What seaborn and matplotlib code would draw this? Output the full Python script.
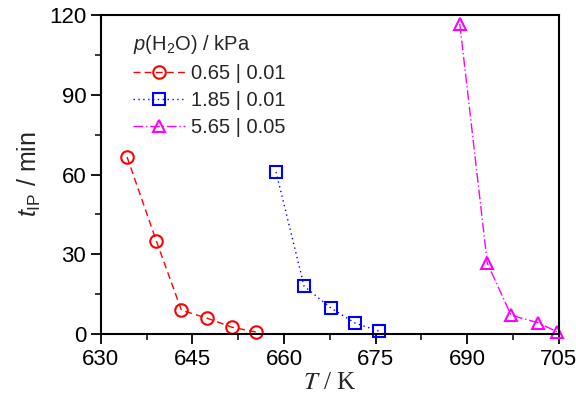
import numpy as np
import pandas as pd
import matplotlib
matplotlib.use('Agg')
import matplotlib.pyplot as plt
import seaborn as sns
from matplotlib.ticker import MultipleLocator

sns.set_style('ticks')
plt.rcParams['font.family'] = ['Liberation Sans', 'DejaVu Sans']
plt.rcParams['mathtext.fontset'] = 'custom'
plt.rcParams['mathtext.rm'] = 'Liberation Sans'
plt.rcParams['mathtext.it'] = 'Liberation Sans:italic'

# data
T_065 = [634.3, 639.1, 643.2, 647.4, 651.5, 655.4]
t_065 = [66.6, 35.0, 9.0, 6.0, 2.6, 0.8]
T_185 = [658.7, 663.3, 667.7, 671.7, 675.6]
t_185 = [61.0, 18.0, 9.8, 4.1, 1.1]
T_565 = [688.8, 693.3, 697.2, 701.6, 704.7]
t_565 = [116.6, 26.7, 7.1, 4.3, 0.9]
labels = ['0.65 | 0.01', '1.85 | 0.01', '5.65 | 0.05']
colors = ['#ff0000', '#0000ff', '#ff00ff']
markers = ['o', 's', '^']
styles = [(0, (5, 3)), (0, (1, 2.5)), (0, (7, 2, 1, 2))]

df = pd.concat([
    pd.DataFrame({'T': T_065, 't': t_065, 'p': labels[0]}),
    pd.DataFrame({'T': T_185, 't': t_185, 'p': labels[1]}),
    pd.DataFrame({'T': T_565, 't': t_565, 'p': labels[2]}),
])

fig, ax = plt.subplots(figsize=(5.76, 4.05), dpi=100)
for lab, c, m, ls in zip(labels, colors, markers, styles):
    sub = df[df['p'] == lab]
    sns.lineplot(data=sub, x='T', y='t', ax=ax, color=c, marker=m, linestyle=ls,
                 linewidth=1.0, markersize=9, markerfacecolor='none',
                 markeredgecolor=c, markeredgewidth=1.5, label=lab, clip_on=False)

ax.set_xlim(630, 705)
ax.set_ylim(0, 120)
ax.xaxis.set_major_locator(MultipleLocator(15))
ax.xaxis.set_minor_locator(MultipleLocator(7.5))
ax.yaxis.set_major_locator(MultipleLocator(30))
ax.yaxis.set_minor_locator(MultipleLocator(15))
ax.tick_params(which='major', direction='out', length=7, width=1.3, labelsize=16, colors='black')
ax.tick_params(which='minor', direction='out', length=4, width=1.3)
for s in ax.spines.values():
    s.set_linewidth(1.5)
    s.set_color('black')

ax.set_xlabel('$T$ / K', fontsize=18, family='Liberation Serif', math_fontfamily='stix', labelpad=2)
ax.set_ylabel(r'$t_{\mathrm{IP}}$ / min', fontsize=18, labelpad=4)

leg = ax.legend(title=r'$p$(H$_2$O) / kPa', loc='upper left', frameon=False,
                fontsize=14.5, title_fontsize=14.5, handlelength=2.6,
                handletextpad=0.3, labelspacing=0.4, borderaxespad=0.5,
                bbox_to_anchor=(0.03, 1.0))
leg._legend_box.align = 'left'

fig.subplots_adjust(left=0.175, right=0.97, bottom=0.175, top=0.963)
fig.savefig('out.png', dpi=100)
